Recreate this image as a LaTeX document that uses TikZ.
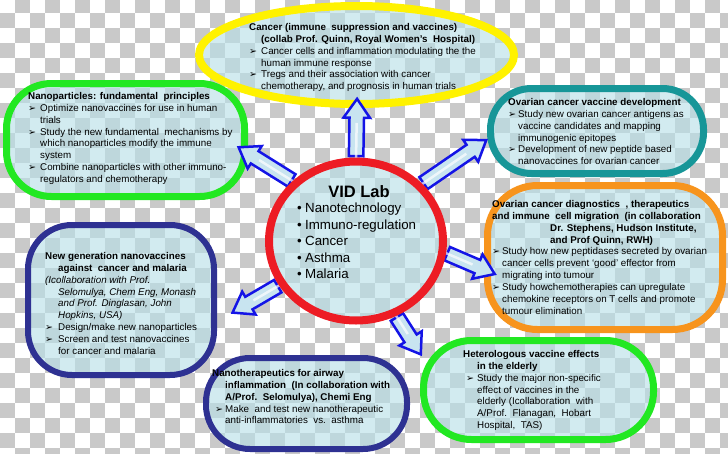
\documentclass[tikz,border=0pt]{standalone}
\usepackage{fontspec}
\setmainfont{Liberation Sans}
\newfontfamily\dejavu{DejaVu Sans}
\usetikzlibrary{calc}
\usetikzlibrary{shapes.arrows, shapes.geometric}

\definecolor{chkgray}{RGB}{201,201,201}
\definecolor{boxfill}{RGB}{185,224,232}
\definecolor{vidred}{RGB}{237,28,36}
\definecolor{vidyellow}{RGB}{255,242,0}
\definecolor{vidgreen}{RGB}{34,232,34}
\definecolor{vidteal}{RGB}{23,150,152}
\definecolor{vidorange}{RGB}{247,148,29}
\definecolor{vidnavy}{RGB}{46,49,146}
\definecolor{arrowblue}{RGB}{20,20,230}
\definecolor{arrowfill}{RGB}{200,228,240}

% viñeta y sangría de las listas
\newcommand{\bul}[1][12pt]{\makebox[#1][l]{\dejavu\fontsize{9.5}{9.5}\selectfont ➢}}
\newcommand{\indt}[1][12pt]{\hspace*{#1}}

\begin{document}
\begin{tikzpicture}[
        x=1pt, y=-1pt,
        box/.style={line width=7pt, fill=boxfill, fill opacity=0.64, draw opacity=1, inner sep=0pt},
        txt/.style={anchor=north west, inner sep=0pt, align=left, font=\fontsize{9.8}{11.9}\selectfont},
        bigarrow/.style={single arrow, draw=arrowblue, line width=2.5pt, fill=arrowfill,
            inner xsep=0pt, inner ysep=6pt, minimum width=24pt,
            single arrow head extend=6pt, single arrow tip angle=70},
        stripe/.style={white, line width=2.5pt, opacity=0.7}
    ]
        \useasboundingbox (0,0) rectangle (728,453);
        \clip (0,0) rectangle (728,453);

        % --- Fondo de cuadros ---
        \foreach \i in {0,...,48}{
            \foreach \j in {0,...,30}{
                \pgfmathtruncatemacro\s{mod(\i+\j,2)}
                \ifnum\s=1 \fill[chkgray] (15*\i,-2+15*\j) rectangle ++(15,15);\fi
            }
        }

        % --- Cajas de los temas ---
        \draw[box, draw=vidyellow, line width=8pt] (356.5,55) ellipse [x radius=157.5, y radius=49];
        \node[box, draw=vidgreen, rounded corners=45pt, minimum width=238, minimum height=113] (nano) at (125.5,140) {};
        \node[box, draw=vidteal, rounded corners=41pt, minimum width=213, minimum height=85] (ovvac) at (597,131) {};
        \node[box, draw=vidorange, rounded corners=50pt, minimum width=235, minimum height=144] (ovdiag) at (605,257.5) {};
        \node[box, draw=vidnavy, line width=6pt, rounded corners=44pt, minimum width=186, minimum height=150] (newgen) at (121,300) {};
        \node[box, draw=vidnavy, line width=6pt, rounded corners=44pt, minimum width=201, minimum height=91] (airway) at (306.5,403.5) {};
        \node[box, draw=vidgreen, rounded corners=48pt, minimum width=230, minimum height=99] (hetero) at (538.5,390) {};

        % --- Textos ---
        \node[txt] (cancerTxt) at (249,23) {\textbf{Cancer (immune\ \ suppression and vaccines)}\\
            \indt\textbf{(collab Prof. Quinn, Royal Women’s\ \ Hospital)}\\
            \bul Cancer cells and inflammation modulating the the\\
            \indt human immune response\\
            \bul Tregs and their association with cancer\\
            \indt chemotherapy, and prognosis in human trials};

        \node[txt] (nanoTxt) at (28,92) {\textbf{Nanoparticles: fundamental\ \ principles}\\
            \bul Optimize nanovaccines for use in human\\
            \indt trials\\
            \bul Study the new fundamental\ \ mechanisms by\\
            \indt which nanoparticles modify the immune\\
            \indt system\\
            \bul Combine nanoparticles with other immuno-\\
            \indt regulators and chemotherapy};

        \node[txt] (ovvacTxt) at (508,98) {\textbf{Ovarian cancer vaccine development}\\
            \bul[10pt]Study new ovarian cancer antigens as\\
            \indt[10pt]vaccine candidates and mapping\\
            \indt[10pt]immunogenic epitopes\\
            \bul[10pt]Development of new peptide based\\
            \indt[10pt]nanovaccines for ovarian cancer};

        \node[txt] (ovdiagTxt) at (492,200) {\textbf{Ovarian cancer diagnostics\ \ , therapeutics}\\
            \textbf{and immune\ \ cell migration\ \ (in collaboration}\\
            \indt[58pt]\textbf{Dr. Stephens, Hudson Institute,}\\
            \indt[58pt]\textbf{and Prof Quinn, RWH)}\\
            \bul[10pt]Study how new peptidases secreted by ovarian\\
            \indt[10pt]cancer cells prevent ‘good’ effector from\\
            \indt[10pt]migrating into tumour\\
            \bul[10pt]Study howchemotherapies can upregulate\\
            \indt[10pt]chemokine receptors on T cells and promote\\
            \indt[10pt]tumour elimination};

        \node[txt] (newgenTxt) at (45,252) {\textbf{New generation nanovaccines}\\
            \indt[13pt]\textbf{against\ \ cancer and malaria}\\
            \textit{(Icollaboration with Prof.}\\
            \indt[13pt]\textit{Selomulya, Chem Eng, Monash}\\
            \indt[13pt]\textit{and Prof. Dinglasan, John}\\
            \indt[13pt]\textit{Hopkins, USA)}\\
            \bul[13pt]Design/make new nanoparticles\\
            \bul[13pt]Screen and test nanovaccines\\
            \indt[13pt]for cancer and malaria};

        \node[txt] (airwayTxt) at (212,369) {\textbf{Nanotherapeutics for airway}\\
            \indt[13pt]\textbf{inflammation\ \ (In collaboration with}\\
            \indt[13pt]\textbf{A/Prof.\ \ Selomulya), Chemi Eng}\\
            \indt[3pt]\bul[10pt]Make\ \ and test new nanotherapeutic\\
            \indt[13pt]anti-inflammatories\ \ vs.\ \ asthma};

        \node[txt] (heteroTxt) at (463,350) {\textbf{Heterologous vaccine effects}\\
            \indt[14pt]\textbf{in the elderly}\\
            \indt[3pt]\bul[11pt]Study the major non-specific\\
            \indt[14pt]effect of vaccines in the\\
            \indt[14pt]elderly (Icollaboration\ \ with\\
            \indt[14pt]A/Prof.\ \ Flanagan,\ \ Hobart\\
            \indt[14pt]Hospital,\ \ TAS)};

        % --- Flechas desde el centro ---
        % Nodo auxiliar con la forma del círculo (se dibuja después)
        \node[ellipse, minimum width=174, minimum height=159, inner sep=0pt] (vid) at (356,241) {};
        \coordinate (T_up) at (357,104);
        \coordinate (T_ul) at (243,150);
        \coordinate (T_ur) at (482,143);
        \coordinate (T_r) at (490,272);
        \coordinate (T_lr) at (418,350);
        \coordinate (T_ll) at (237,310);
        \foreach \ang/\tip in {90/T_up, 136/T_ul, 41/T_ur, 353/T_r, 298/T_lr, 210/T_ll}{
            \path let \p1=($(\tip)-(vid.\ang)$), \n1={atan2(\y1,\x1)}, \n2={veclen(\x1,\y1)} in
                node[bigarrow, minimum height=\n2, rotate=\n1] at ($(vid.\ang)!0.5!(\tip)$) {};
            % raya clara del cuerpo
            \draw[stripe] (vid.\ang) -- ($(\tip)!19pt!(vid.\ang)$);
        }

        % --- Círculo central ---
        \draw[box, draw=vidred, line width=8pt] (vid.center) ellipse [x radius=87, y radius=79.5];
        \node[font=\fontsize{16.5}{18}\selectfont\bfseries] (vidTitle) at (359,192) {VID Lab};
        \node[txt, font=\fontsize{13.3}{16.5}\selectfont] (vidList) at (297,203) {\makebox[8pt][l]{\textbullet}Nanotechnology\\
            \makebox[8pt][l]{\textbullet}Immuno-regulation\\
            \makebox[8pt][l]{\textbullet}Cancer\\
            \makebox[8pt][l]{\textbullet}Asthma\\
            \makebox[8pt][l]{\textbullet}Malaria};

    \end{tikzpicture}
\end{document}
